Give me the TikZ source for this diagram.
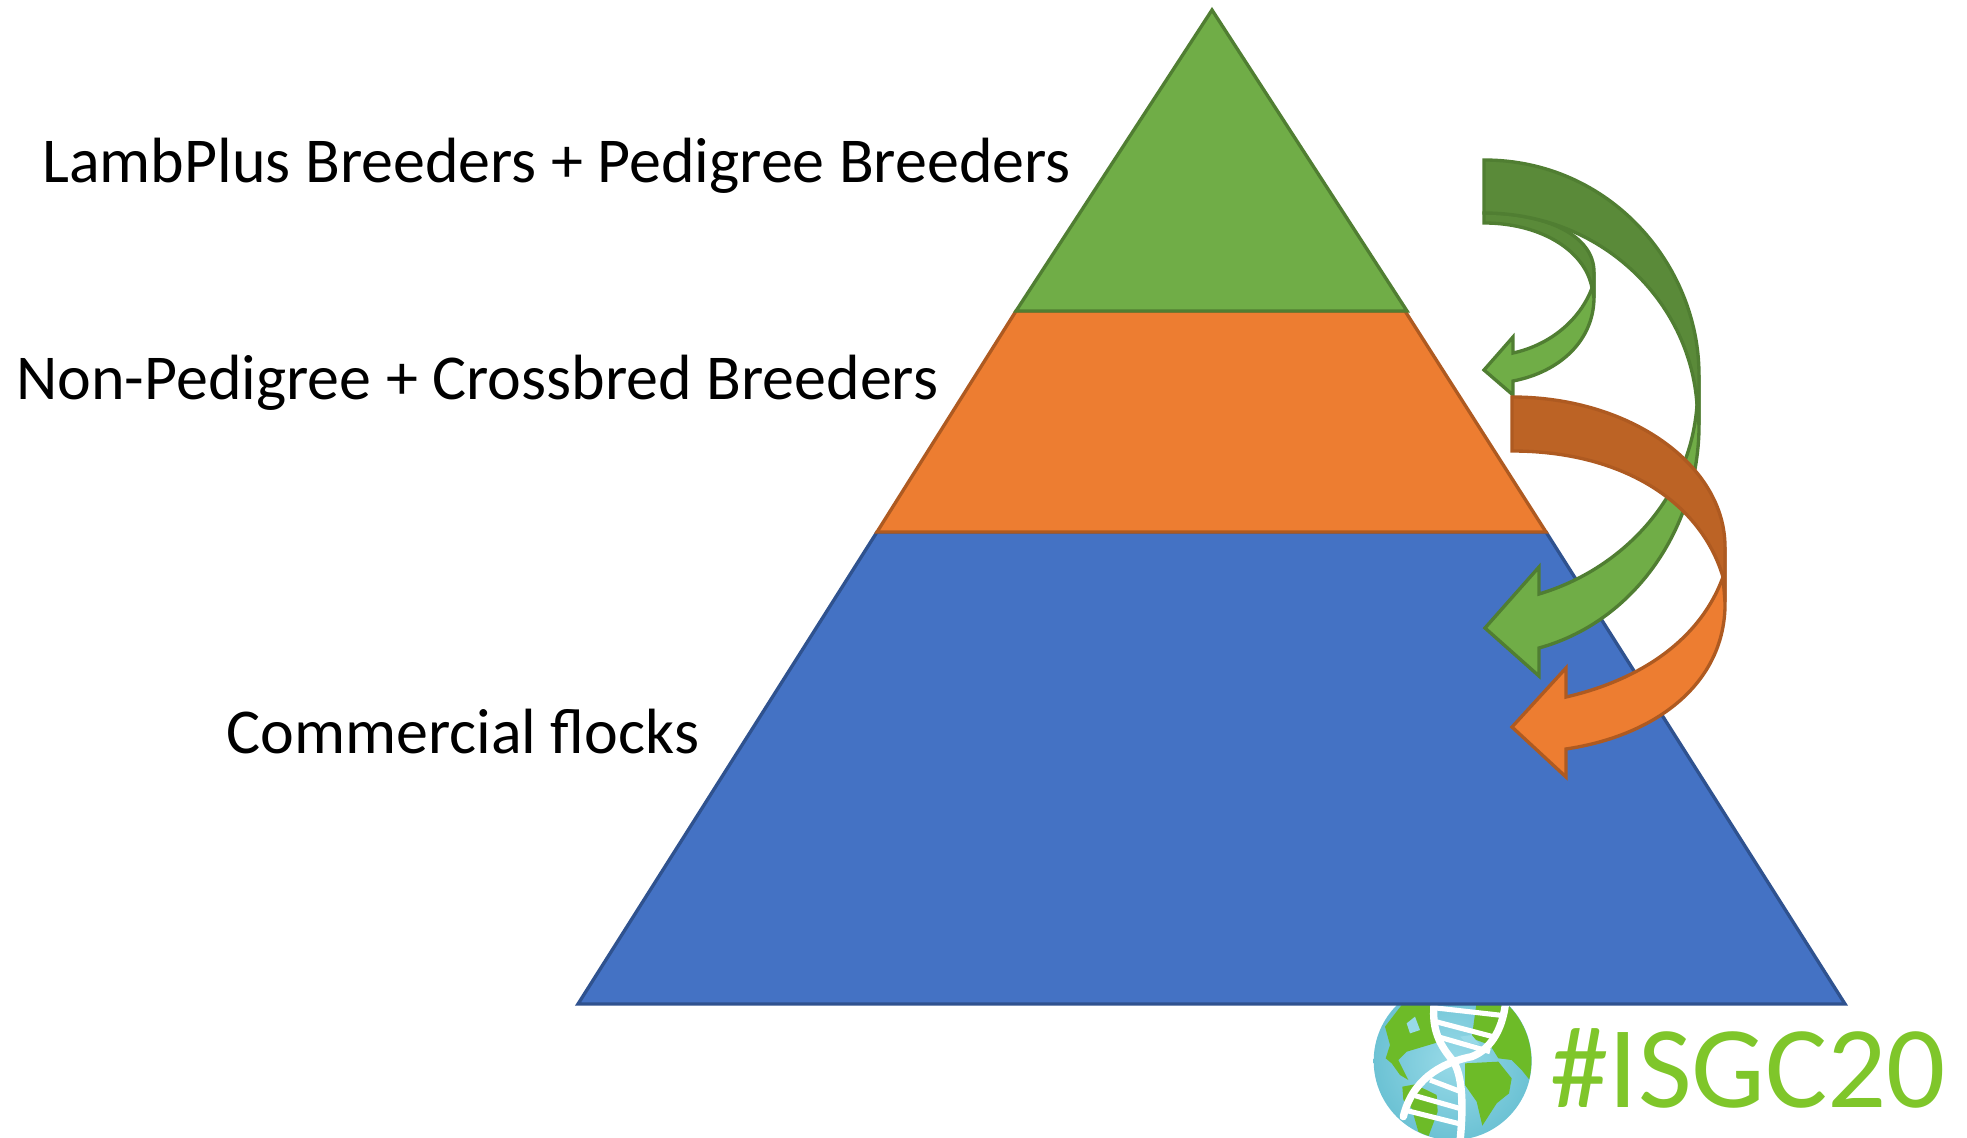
\documentclass[tikz,border=0pt]{standalone}
\usepackage{fontspec}
\setmainfont{Carlito}
\definecolor{grn}{HTML}{70AD47}
\definecolor{grnd}{HTML}{5A8A39}
\definecolor{grns}{HTML}{507E32}
\definecolor{org}{HTML}{ED7D31}
\definecolor{orgd}{HTML}{BC6325}
\definecolor{orgs}{HTML}{AE5A21}
\definecolor{blu}{HTML}{4472C4}
\definecolor{blus}{HTML}{2F528F}
\definecolor{logo}{HTML}{7FC62A}
\definecolor{sealight}{HTML}{98DAE8}
\definecolor{seadark}{HTML}{6CC2D4}
\definecolor{land}{HTML}{6DBB28}
\tikzset{
  greenpart/.style={fill=grn,draw=grns,line width=1.9pt,line join=miter},
  greenback/.style={fill=grnd,draw=grns,line width=1.9pt,line join=miter},
  orangepart/.style={fill=org,draw=orgs,line width=1.9pt,line join=miter},
  orangeback/.style={fill=orgd,draw=orgs,line width=1.9pt,line join=miter},
  tierblue/.style={fill=blu,draw=blus,line width=1.9pt,line join=miter},
  tierorange/.style={fill=org,draw=orgs,line width=1.9pt,line join=miter},
  tiergreen/.style={fill=grn,draw=grns,line width=1.9pt,line join=miter},
  tierlabel/.style={anchor=base west,inner sep=0pt,font=\fontsize{36.4}{42}\selectfont},
  strand/.style={draw=white,line width=4.2pt,line cap=round},
  rung/.style={draw=white,line width=2.9pt},
  continent/.style={fill=land},
}
\begin{document}
\begin{tikzpicture}[x=0.02cm,y=-0.02cm]
\useasboundingbox (0,0) rectangle (1967,1138);
% logo globe
\begin{scope}
\clip (0,0) rectangle (1967,1138);
\begin{scope}[shift={(1365,995)},x=0.02cm/3,y=-0.02cm/3]
\shade[inner color=sealight,outer color=seadark] (263,198) circle [radius=237];
\begin{scope}
\clip (263,198) circle [radius=236];
\fill[continent] (60,95) -- (110,30) -- (205,20) -- (205,100) -- (225,140) -- (175,155) -- (125,170) -- (100,195) -- (130,255) -- (105,240) -- (80,205) -- (62,190) -- (75,150) -- cycle;
\fill[continent] (112,275) -- (150,268) -- (215,300) -- (218,350) -- (190,425) -- (160,410) -- (140,340) -- (115,315) -- cycle;
\fill[continent] (300,205) -- (400,200) -- (440,250) -- (432,295) -- (395,325) -- (352,392) -- (335,320) -- (300,270) -- cycle;
\fill[continent] (335,20) -- (430,20) -- (490,110) -- (505,190) -- (498,260) -- (470,225) -- (440,195) -- (400,190) -- (375,150) -- (320,130) -- cycle;
\fill[sealight] (125,85) -- (150,65) -- (165,105) -- (135,115) -- cycle;
\fill[sealight] (285,125) -- (320,120) -- (345,150) -- (300,140) -- cycle;
\end{scope}
\draw[rung] (205,38) -- (418,62);
\draw[rung] (205,78) -- (395,128);
\draw[rung] (218,125) -- (375,170);
\draw[rung] (195,255) -- (282,288);
\draw[rung] (150,302) -- (290,342);
\draw[rung] (118,345) -- (290,388);
\draw[strand] (208,20) .. controls (200,90) and (215,140) .. (262,195) .. controls (295,240) and (295,340) .. (285,440);
\draw[strand] (422,20) .. controls (415,90) and (385,160) .. (320,185) .. controls (220,205) and (140,260) .. (115,365);
\end{scope}
\end{scope}
\node[anchor=base west,inner sep=0pt,text=logo,font=\fontsize{66.5}{76}\selectfont] (tag) at (1550,1107) {\#ISGC20};
% pyramid
\draw[tierblue] (877,532) -- (1546,532) -- (1845,1004) -- (578,1004) -- cycle;
\draw[tierorange] (1016,311) -- (1405,311) -- (1546,532) -- (877,532) -- cycle;
\draw[tiergreen] (1212,10) -- (1407,311) -- (1016,311) -- cycle;
% small green arrow
\draw[greenpart] (1592,288) .. controls (1580,320) and (1550,345) .. (1513,353) -- (1513,337) -- (1484,370) -- (1513,395) -- (1513,381) .. controls (1560,372) and (1595,340) .. (1594,295) -- (1594,272) -- cycle;
\draw[greenback] (1484,213) .. controls (1545,213) and (1594,235) .. (1594,272) -- (1594,298) -- (1592,288) .. controls (1585,250) and (1540,223) .. (1484,223) -- cycle;
% big green arrow
\draw[greenpart] (1697,405) .. controls (1690,500) and (1620,570) .. (1539,594) -- (1539,567) -- (1485,628) -- (1539,676) -- (1539,648) .. controls (1640,620) and (1701,520) .. (1699,420) -- (1699,375) -- cycle;
\draw[greenback] (1484,160) .. controls (1610,160) and (1699,265) .. (1699,375) -- (1699,425) -- (1697,405) .. controls (1690,300) and (1600,213) .. (1484,213) -- cycle;
% orange arrow
\draw[orangepart] (1723,577) .. controls (1700,640) and (1640,680) .. (1566,697) -- (1566,668) -- (1512,727) -- (1566,777) -- (1566,749) .. controls (1660,735) and (1727,680) .. (1725,600) -- (1725,547) -- cycle;
\draw[orangeback] (1512,397) .. controls (1630,397) and (1725,465) .. (1725,547) -- (1725,602) -- (1723,577) .. controls (1700,500) and (1620,451) .. (1512,451) -- cycle;
% labels
\node[tierlabel] (top) at (42,182.5) {LambPlus Breeders + Pedigree Breeders};
\node[tierlabel] (mid) at (16,399.5) {Non-Pedigree + Crossbred Breeders};
\node[tierlabel] (low) at (226,753.5) {Commercial flocks};
\end{tikzpicture}
\end{document}
